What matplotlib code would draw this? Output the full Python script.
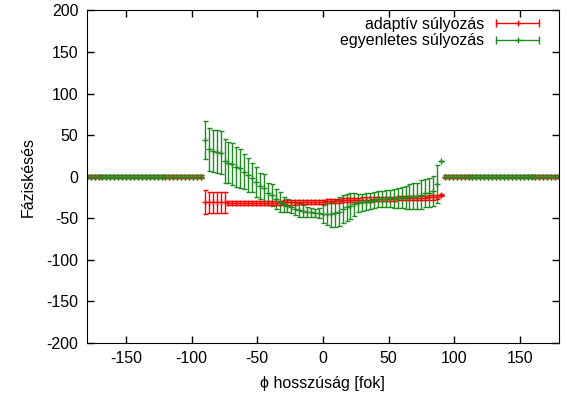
import numpy as np
import matplotlib
matplotlib.use("Agg")
import matplotlib.pyplot as plt
from matplotlib.lines import Line2D
from matplotlib.legend_handler import HandlerBase

plt.rcParams['font.family'] = ['Liberation Sans', 'DejaVu Sans']
plt.rcParams['font.size'] = 11.5
plt.rcParams['axes.unicode_minus'] = False

# longitude grid (3 degree steps)
phi_left = np.arange(-180, -92, 3)
phi_mid = np.arange(-90, 91, 3)
phi_right = np.arange(93, 181, 3)

# outside +-90 both weightings give zero phase delay
side_zero = [0, 0, 0, 0, 0, 0, 0, 0, 0, 0, 0, 0, 0, 0, 0,
             0, 0, 0, 0, 0, 0, 0, 0, 0, 0, 0, 0, 0, 0, 0]
side_err = [1.5, 1.5, 1.5, 1.5, 1.5, 1.5, 1.5, 1.5, 1.5, 1.5, 1.5, 1.5, 1.5, 1.5, 1.5,
            1.5, 1.5, 1.5, 1.5, 1.5, 1.5, 1.5, 1.5, 1.5, 1.5, 1.5, 1.5, 1.5, 1.5, 1.5]

# adaptive weighting, -90..90
adapt_mid = [-30, -31, -31, -31, -31, -31, -31.5, -31.5, -31.5, -31.5,
             -31.5, -31.5, -31.5, -31.5, -31.5, -31.5, -31.5, -31.5, -31.5, -31.5,
             -31, -31, -31, -31, -30.5, -30.5, -30.5, -30, -30, -30,
             -30, -29.5, -29.5, -29, -29, -28.5, -28.5, -28, -28, -28,
             -27.5, -27.5, -27.5, -27, -27, -27, -26.5, -26.5, -26.5, -26,
             -26, -26, -26, -25.5, -25.5, -25.5, -25.5, -25, -25, -24.5,
             -22]
adapt_err = [14.5, 13, 13, 13, 13, 13, 2.5, 2.5, 2.5, 2.5,
             2.5, 2.5, 2.5, 2.5, 2.5, 2.5, 2.5, 2.5, 2.5, 2.5,
             2.5, 2.5, 2.5, 2.5, 2.5, 2.5, 2.5, 2.5, 2.5, 2.5,
             2.5, 2.5, 2.5, 2.5, 2.5, 2.5, 2.5, 2.5, 2.5, 2.5,
             2.5, 2.5, 2.5, 2.5, 2.5, 2.5, 2.5, 2.5, 2.5, 2.5,
             2.5, 2.5, 2.5, 2.5, 2.5, 2.5, 2.5, 2.5, 2.5, 2.5,
             1.5]

# uniform weighting, -90..90
unif_mid = [44, 33, 31, 30, 29, 19, 17, 15, 12, 10,
            6, 2, -1, -6, -11, -13, -20, -22, -27, -30,
            -33, -35, -37, -39, -40, -41, -42, -43, -44, -44,
            -45, -45, -45, -44, -42, -39, -37, -35, -33, -32,
            -31, -30, -29, -28, -27, -27, -26.5, -26, -26, -25.5,
            -25, -25, -24, -23.5, -23, -21.5, -20, -19, -17.5, -9,
            19]
unif_err = [23, 26, 25, 26, 26, 26, 25, 25, 24, 23,
            21, 20, 17, 18, 16, 16, 12, 13, 12, 12,
            9, 8, 7, 7, 8, 7, 6, 5, 5, 6,
            11, 13, 15, 16, 17, 17, 16, 16, 14, 11,
            10.5, 10, 10, 10, 9.5, 9.5, 10, 10.5, 11.5, 12,
            12.5, 13.5, 15, 15.5, 15.5, 17.5, 17, 17.5, 18, 23,
            0]

red = '#ff0000'
green = '#1f8c1f'

fig, ax = plt.subplots(figsize=(5.67, 4.03), dpi=100)
fig.subplots_adjust(left=0.153, right=0.986, top=0.974, bottom=0.149)

style = dict(fmt='+', ms=4, lw=1, elinewidth=1, capsize=1.8, capthick=1)
for xs, ys, es in [(phi_left, side_zero, side_err), (phi_mid, adapt_mid, adapt_err),
                   (phi_right, side_zero, side_err)]:
    ax.errorbar(xs, ys, yerr=es, color=red, **style)
for xs, ys, es in [(phi_left, side_zero, side_err), (phi_mid, unif_mid, unif_err),
                   (phi_right, side_zero, side_err)]:
    ax.errorbar(xs, ys, yerr=es, color=green, **style)

ax.set_xlim(-180, 180)
ax.set_ylim(-200, 200)
ax.set_xticks([-150, -100, -50, 0, 50, 100, 150])
ax.set_yticks(np.arange(-200, 201, 50))
ax.tick_params(direction='in', top=True, right=True, length=5, width=1, pad=6)
ax.set_xlabel('ϕ hosszúság [fok]', labelpad=7)
ax.set_ylabel('Fáziskésés', labelpad=8)


class CapLineHandler(HandlerBase):
    def create_artists(self, legend, orig_handle, xdescent, ydescent,
                       width, height, fontsize, trans):
        c = orig_handle.get_color()
        y = height / 2 - ydescent
        x0, x1 = -xdescent, width - xdescent
        line = Line2D([x0, x1], [y, y], color=c, lw=1)
        caps = Line2D([x0, x1], [y, y], ls='none', marker='|', ms=6, mew=1, color=c)
        mid = Line2D([(x0 + x1) / 2], [y], ls='none', marker='+', ms=4, color=c)
        for a in (line, caps, mid):
            a.set_transform(trans)
        return [line, caps, mid]


handles = [Line2D([], [], color=red), Line2D([], [], color=green)]
ax.legend(handles, ['adaptív súlyozás', 'egyenletes súlyozás'],
          handler_map={Line2D: CapLineHandler()}, loc='upper right',
          bbox_to_anchor=(0.985, 1.02), frameon=False, markerfirst=False,
          handlelength=2.7, handletextpad=0.75, labelspacing=0.1, borderpad=0.3)

plt.savefig('out.png', dpi=100)
